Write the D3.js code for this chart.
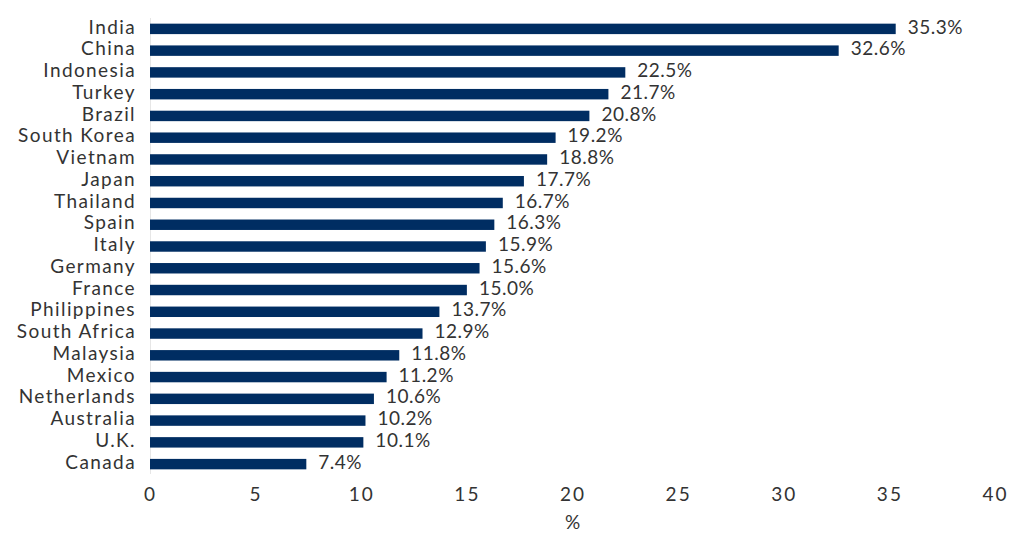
<!DOCTYPE html>
<html><head><meta charset="utf-8">
<script src="https://cdn.jsdelivr.net/npm/d3@7/dist/d3.min.js"></script>
<style>body{margin:0;background:#fff}svg{display:block}text{font-family:Lato,"Open Sans",sans-serif;fill:#333}</style>
</head><body><svg id="c" width="1024" height="537"></svg>
<script>
const countries = ["India","China","Indonesia","Turkey","Brazil","South Korea","Vietnam","Japan","Thailand","Spain","Italy","Germany","France","Philippines","South Africa","Malaysia","Mexico","Netherlands","Australia","U.K.","Canada"];
const values = [35.3,32.6,22.5,21.7,20.8,19.2,18.8,17.7,16.7,16.3,15.9,15.6,15.0,13.7,12.9,11.8,11.2,10.6,10.2,10.1,7.4];
const xTicks = [0,5,10,15,20,25,30,35,40];
const xTitle = "%";

const svg = d3.select("#c");
const x = d3.scaleLinear().domain([0,40]).range([150,995]);
const y = d3.scaleBand().domain(countries).range([18,475]).paddingInner(0.52).paddingOuter(0.26);

svg.append("line").attr("x1",x(0)+0.5).attr("x2",x(0)+0.5).attr("y1",18).attr("y2",474)
  .attr("stroke","#e6e6e6").attr("stroke-width",1);

svg.selectAll("rect.bar").data(values).join("rect").attr("class","bar")
  .attr("x",x(0)).attr("y",(d,i)=>y(countries[i]))
  .attr("width",d=>x(d)-x(0)).attr("height",y.bandwidth())
  .attr("fill","#002d62");

svg.selectAll("text.val").data(values).join("text").attr("class","val")
  .attr("x",d=>x(d)+12).attr("y",(d,i)=>y(countries[i])+y.bandwidth()/2-2)
  .attr("dy","0.35em").attr("font-size",19).attr("letter-spacing","0.5px")
  .text(d=>d.toFixed(1)+"%");

svg.selectAll("text.cat").data(countries).join("text").attr("class","cat")
  .attr("x",136).attr("y",d=>y(d)+y.bandwidth()/2-2)
  .attr("dy","0.35em").attr("text-anchor","end").attr("font-size",19).attr("letter-spacing","1.4px")
  .text(d=>d);

const ax = svg.append("g").attr("transform","translate(0,482)")
  .call(d3.axisBottom(x).tickValues(xTicks).tickSize(0).tickPadding(5).tickFormat(d3.format("d")));
ax.select(".domain").remove();
ax.selectAll("text").attr("font-size",19).attr("letter-spacing","2px").attr("fill","#333").style("font-family","Lato,'Open Sans',sans-serif");

svg.append("text").attr("x",(x(0)+x(40))/2).attr("y",529).attr("text-anchor","middle")
  .attr("font-size",19).text(xTitle);
</script></body></html>
